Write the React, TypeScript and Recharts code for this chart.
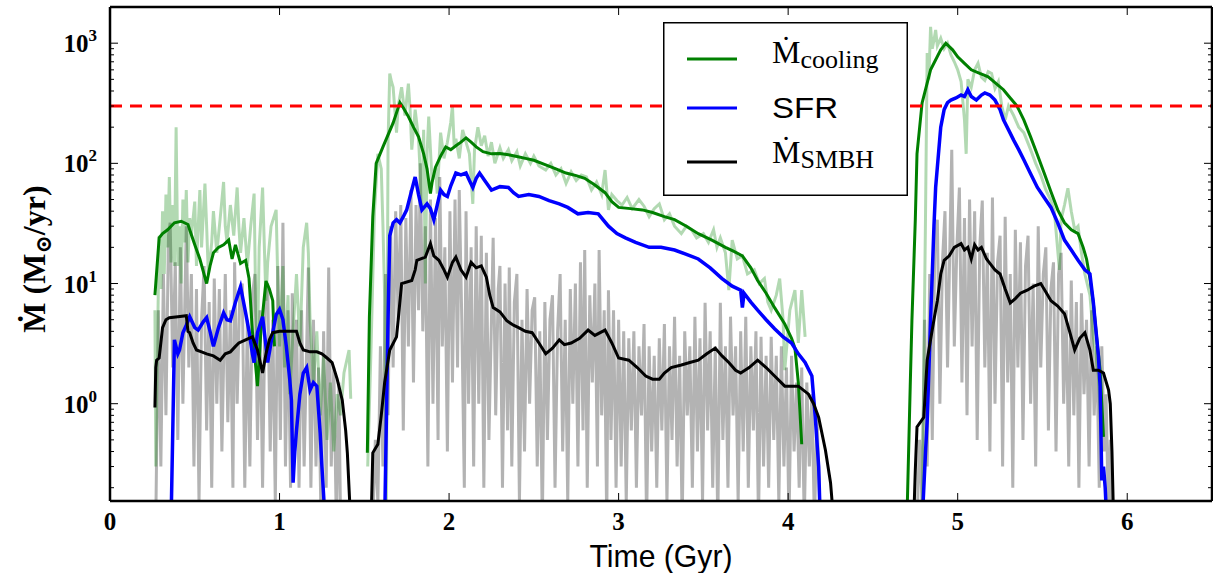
import React from 'react'
import { LineChart, Line, XAxis, YAxis, ReferenceLine, Legend } from 'recharts'

type Pt = [number, number | null]

// values below the axis floor (0.1) just mean "drops off the bottom"
const coolingRaw: Pt[] = [
  [0.265, 6], [0.27, 0.3], [0.28, 3], [0.29, 25], [0.3, 9], [0.31, 40], [0.32, 12], [0.33, 55], [0.34, 20], [0.35, 77],
  [0.36, 15], [0.37, 45], [0.38, 14], [0.39, 200], [0.4, 14], [0.41, 30], [0.42, 10], [0.43, 50], [0.44, 22], [0.45, 60],
  [0.46, 15], [0.47, 35], [0.48, 25], [0.5, 48], [0.51, 14], [0.53, 60], [0.54, 20], [0.56, 68], [0.57, 30], [0.58, 12],
  [0.6, 22], [0.61, 40], [0.63, 18], [0.65, 35], [0.67, 70], [0.68, 30], [0.69, 22], [0.71, 45], [0.73, 25], [0.75, 63],
  [0.76, 30], [0.77, 18], [0.79, 35], [0.81, 14], [0.83, 30], [0.85, 56], [0.86, 6], [0.87, 3], [0.88, 20], [0.9, 63],
  [0.92, 7.2], [0.93, 15], [0.95, 30], [0.98, 41], [0.99, 10], [1.0, 3], [1.02, 14], [1.03, 2], [1.05, 8], [1.06, 1.2],
  [1.08, 4], [1.1, 12], [1.12, 3], [1.14, 20], [1.16, 32], [1.17, 18], [1.18, 5], [1.2, 1.5], [1.22, 4], [1.24, 0.8],
  [1.26, 2.5], [1.28, 0.5], [1.3, 1.5], [1.32, 0.4], [1.34, 1.2], [1.36, 0.8], [1.38, 1.8], [1.41, 2.8], [1.42, 1.1],
  [1.47, null],
  [1.52, 0.3], [1.54, 3], [1.56, 40], [1.58, 120], [1.6, 90], [1.61, 30], [1.62, 7.7], [1.63, 0.1], [1.64, 150], [1.65, 560],
  [1.66, 480], [1.67, 430], [1.69, 180], [1.7, 300], [1.72, 430], [1.74, 250], [1.76, 460], [1.77, 280], [1.78, 130], [1.8, 280],
  [1.82, 160], [1.84, 41], [1.85, 190], [1.86, 10], [1.87, 120], [1.88, 245], [1.9, 70], [1.92, 93], [1.93, 56], [1.95, 180],
  [1.97, 110], [1.99, 150], [2.01, 220], [2.02, 300], [2.03, 140], [2.04, 160], [2.06, 110], [2.08, 190], [2.1, 150], [2.12, 120],
  [2.14, 46], [2.15, 130], [2.17, 200], [2.19, 140], [2.21, 170], [2.23, 115], [2.25, 150], [2.27, 100], [2.3, 135], [2.32, 110],
  [2.35, 130], [2.37, 105], [2.4, 125], [2.42, 95], [2.45, 120], [2.48, 100], [2.5, 115], [2.53, 95], [2.57, 88], [2.6, 100],
  [2.63, 80], [2.66, 90], [2.69, 68], [2.72, 85], [2.75, 72], [2.78, 80], [2.81, 77], [2.84, 60], [2.87, 70], [2.9, 55],
  [2.92, 88], [2.94, 41], [2.96, 55], [2.99, 49], [3.02, 45], [3.05, 52], [3.08, 42], [3.12, 50], [3.15, 44], [3.18, 36],
  [3.21, 42], [3.24, 46], [3.27, 34], [3.3, 38], [3.33, 30], [3.37, 26], [3.4, 30], [3.43, 28], [3.46, 24], [3.5, 26],
  [3.53, 22], [3.56, 28], [3.58, 20], [3.6, 24], [3.63, 18], [3.65, 8.8], [3.67, 23], [3.7, 16], [3.73, 17], [3.76, 12],
  [3.8, 13], [3.83, 10], [3.86, 11], [3.88, 7], [3.9, 6], [3.93, 8], [3.95, 11], [3.97, 5], [3.98, 1.9], [4.01, 6],
  [4.04, 8.8], [4.06, 3.2], [4.08, 8.8], [4.1, 3.6],
  [4.5, null],
  [4.79, 0.1], [4.8, 2], [4.81, 34], [4.82, 830], [4.83, 500], [4.84, 1370], [4.85, 900], [4.86, 1060], [4.87, 1290], [4.88, 950],
  [4.9, 1100], [4.92, 900], [4.94, 1000], [4.96, 800], [4.98, 700], [5.0, 600], [5.02, 480], [5.04, 230], [5.05, 120], [5.06, 500],
  [5.08, 430], [5.1, 600], [5.12, 680], [5.14, 520], [5.16, 490], [5.18, 580], [5.2, 560], [5.22, 420], [5.24, 480], [5.26, 300],
  [5.28, 230], [5.3, 300], [5.33, 250], [5.36, 200], [5.39, 180], [5.43, 130], [5.46, 100], [5.49, 80], [5.52, 60], [5.55, 49],
  [5.57, 40], [5.6, 13], [5.61, 34], [5.63, 45], [5.65, 62], [5.67, 40], [5.69, 28], [5.71, 30], [5.73, 18], [5.75, 12],
  [5.78, 8], [5.8, 3.6], [5.83, 1.7], [5.85, 0.4],
]

const smbhRaw: Pt[] = [
  [0.27, 0.1], [0.285, 6], [0.3, 0.3], [0.315, 12], [0.33, 0.8], [0.345, 25], [0.355, 32], [0.37, 2], [0.385, 15], [0.4, 0.5],
  [0.415, 20], [0.43, 1], [0.45, 30], [0.465, 2], [0.48, 12], [0.495, 0.3], [0.51, 9], [0.525, 0.15], [0.54, 5], [0.555, 14],
  [0.57, 0.6], [0.585, 7], [0.6, 0.2], [0.615, 11], [0.63, 1], [0.645, 9], [0.66, 0.4], [0.68, 12], [0.695, 0.7], [0.71, 6],
  [0.725, 0.2], [0.735, 15], [0.75, 1], [0.765, 8], [0.78, 10], [0.795, 0.2], [0.81, 5], [0.825, 0.3], [0.84, 8], [0.855, 12],
  [0.87, 0.5], [0.885, 6], [0.9, 0.2], [0.915, 7], [0.93, 10], [0.945, 0.4], [0.96, 5], [0.975, 0.15], [0.99, 14], [1.005, 0.5],
  [1.02, 32], [1.035, 0.3], [1.05, 6], [1.065, 0.2], [1.075, 8.3], [1.09, 0.5], [1.1, 5], [1.115, 0.2], [1.13, 6], [1.145, 0.3],
  [1.16, 3], [1.17, 13.6], [1.185, 0.2], [1.2, 5], [1.215, 0.3], [1.23, 2], [1.245, 0.1], [1.26, 4], [1.275, 0.2], [1.29, 13.6],
  [1.305, 0.3], [1.32, 2], [1.335, 0.1], [1.35, 1.5], [1.36, 0.1],
  [1.45, null],
  [1.55, 0.1], [1.565, 0.5], [1.58, 0.15], [1.595, 3], [1.61, 0.3], [1.625, 12], [1.64, 0.8], [1.655, 30], [1.67, 2], [1.685, 40],
  [1.7, 5], [1.715, 45], [1.73, 0.6], [1.745, 35], [1.76, 3], [1.775, 60], [1.79, 1.5], [1.805, 45], [1.82, 6], [1.83, 100],
  [1.845, 4], [1.86, 30], [1.875, 0.3], [1.89, 50], [1.905, 1], [1.92, 35], [1.935, 0.5], [1.945, 77], [1.96, 3], [1.975, 20],
  [1.99, 0.4], [2.005, 40], [2.02, 1.5], [2.035, 50], [2.05, 2], [2.06, 60], [2.075, 5], [2.09, 0.2], [2.1, 40], [2.115, 1],
  [2.13, 20], [2.145, 0.3], [2.16, 30], [2.175, 1], [2.19, 25], [2.205, 0.2], [2.22, 18], [2.235, 0.5], [2.26, 24], [2.275, 0.8],
  [2.29, 9], [2.3, 14], [2.315, 0.2], [2.33, 10], [2.345, 0.6], [2.355, 13.6], [2.37, 0.3], [2.385, 7], [2.4, 12], [2.415, 0.15],
  [2.43, 5], [2.445, 0.4], [2.46, 9], [2.475, 1], [2.49, 6], [2.505, 7.7], [2.52, 0.3], [2.535, 4], [2.55, 0.1], [2.565, 7],
  [2.58, 0.5], [2.595, 5], [2.61, 8], [2.625, 0.2], [2.64, 4], [2.655, 12], [2.67, 0.4], [2.685, 5], [2.7, 0.15], [2.715, 9],
  [2.73, 1], [2.745, 10], [2.76, 0.3], [2.775, 15], [2.79, 0.6], [2.8, 19], [2.815, 0.2], [2.83, 8], [2.845, 1.5], [2.86, 10],
  [2.875, 0.3], [2.885, 19], [2.9, 0.8], [2.915, 6], [2.93, 0.1], [2.94, 8.8], [2.955, 0.5], [2.97, 6], [2.985, 0.2], [3.0, 5],
  [3.015, 0.3], [3.03, 4], [3.045, 0.15], [3.06, 3.5], [3.075, 0.6], [3.09, 4], [3.105, 0.2], [3.12, 3], [3.135, 0.8], [3.15, 4.6],
  [3.165, 0.1], [3.18, 3], [3.195, 0.4], [3.21, 2.5], [3.225, 0.2], [3.24, 3.5], [3.255, 0.6], [3.27, 4.6], [3.285, 0.15], [3.3, 3],
  [3.315, 0.5], [3.33, 5.3], [3.345, 0.3], [3.36, 2.5], [3.375, 0.1], [3.39, 4], [3.405, 0.8], [3.42, 3], [3.435, 0.2], [3.45, 5.3],
  [3.465, 0.4], [3.48, 3.5], [3.495, 0.15], [3.51, 6.9], [3.525, 0.6], [3.54, 4], [3.555, 0.2], [3.57, 3], [3.585, 0.1], [3.6, 6.9],
  [3.615, 0.5], [3.63, 3], [3.645, 0.2], [3.66, 5.3], [3.675, 0.8], [3.69, 3], [3.705, 0.15], [3.72, 4], [3.735, 0.4], [3.75, 5.3],
  [3.765, 0.2], [3.78, 3], [3.795, 0.6], [3.81, 4], [3.825, 0.1], [3.84, 3.6], [3.855, 0.3], [3.87, 2.5], [3.885, 0.2], [3.9, 3.6],
  [3.915, 0.5], [3.93, 2.5], [3.945, 0.15], [3.96, 3], [3.975, 0.3], [3.99, 2], [4.005, 0.1], [4.02, 2.5], [4.035, 0.4], [4.05, 1.5],
  [4.065, 0.2], [4.08, 2], [4.095, 0.1], [4.11, 1.5], [4.125, 0.3], [4.14, 1.2], [4.155, 0.1], [4.17, 0.8], [4.19, 0.1],
  [4.5, null],
  [4.76, 0.1], [4.775, 0.5], [4.79, 0.15], [4.805, 5], [4.82, 0.3], [4.835, 12], [4.85, 0.5], [4.865, 20], [4.88, 34], [4.895, 1],
  [4.91, 15], [4.925, 40], [4.94, 2], [4.955, 25], [4.965, 130], [4.98, 3], [4.995, 20], [5.01, 63], [5.025, 1.5], [5.04, 35],
  [5.055, 0.8], [5.07, 50], [5.085, 3], [5.1, 40], [5.115, 0.5], [5.13, 20], [5.145, 49], [5.16, 2], [5.175, 18], [5.19, 0.4],
  [5.205, 52], [5.22, 1], [5.235, 15], [5.25, 25], [5.265, 0.3], [5.28, 36], [5.295, 1.5], [5.31, 12], [5.325, 0.2], [5.34, 28],
  [5.355, 2], [5.37, 22], [5.385, 0.5], [5.4, 14], [5.415, 25], [5.43, 1], [5.445, 10], [5.46, 0.3], [5.475, 30], [5.49, 2],
  [5.505, 12], [5.52, 20], [5.535, 0.6], [5.55, 9], [5.565, 15], [5.58, 0.4], [5.595, 12], [5.61, 18], [5.625, 1], [5.64, 6],
  [5.655, 0.3], [5.67, 10.6], [5.685, 0.8], [5.7, 7], [5.715, 0.2], [5.73, 8.3], [5.745, 1.2], [5.76, 5], [5.775, 0.3], [5.79, 6],
  [5.805, 0.8], [5.82, 3], [5.835, 0.2], [5.85, 3], [5.865, 0.4], [5.875, 1.2], [5.89, 0.1], [5.9, 0.5], [5.91, 0.1],
]

const cooling: Pt[] = [
  [0.265, 8], [0.27, 10], [0.29, 24], [0.31, 26], [0.34, 28], [0.38, 32], [0.42, 33], [0.46, 31], [0.47, 28], [0.5, 21],
  [0.53, 16], [0.57, 10], [0.59, 14], [0.61, 18], [0.64, 20], [0.67, 21], [0.7, 23], [0.72, 16], [0.74, 21], [0.77, 14.7],
  [0.8, 15.6], [0.82, 11], [0.84, 4], [0.86, 2.0], [0.87, 1.4], [0.89, 4], [0.92, 10.5], [0.94, 9], [0.96, 7.2], [0.97, 3],
  [1.3, null],
  [1.518, 0.39], [1.53, 5.3], [1.55, 36], [1.57, 100], [1.61, 137], [1.67, 217], [1.71, 320], [1.73, 290], [1.76, 245], [1.79, 200],
  [1.82, 166], [1.85, 120], [1.87, 90], [1.89, 56], [1.9, 70], [1.92, 93], [1.95, 115], [1.98, 137], [2.01, 130], [2.04, 140],
  [2.07, 150], [2.1, 163], [2.13, 150], [2.16, 137], [2.2, 125], [2.25, 120], [2.3, 121], [2.35, 118], [2.4, 114], [2.45, 110],
  [2.5, 106], [2.57, 97], [2.63, 90], [2.69, 83], [2.75, 79], [2.8, 75], [2.86, 66], [2.92, 57], [2.96, 48], [3.0, 43],
  [3.07, 42], [3.14, 41], [3.2, 39], [3.27, 36], [3.33, 34], [3.4, 30], [3.47, 26], [3.55, 23], [3.63, 20], [3.68, 18.5],
  [3.73, 17], [3.78, 13.5], [3.82, 10.6], [3.87, 8.3], [3.92, 6.3], [3.98, 4.6], [4.02, 3.5], [4.04, 2.9], [4.06, 1.5], [4.08, 0.46],
  [4.4, null],
  [4.7, 0.1], [4.72, 1.4], [4.73, 4.9], [4.75, 34], [4.76, 120], [4.79, 318], [4.84, 600], [4.9, 880], [4.93, 1000], [4.97, 880],
  [5.0, 770], [5.04, 680], [5.08, 600], [5.13, 560], [5.18, 525], [5.22, 470], [5.27, 410], [5.31, 350], [5.35, 300], [5.39, 230],
  [5.43, 166], [5.47, 118], [5.51, 83], [5.55, 58], [5.59, 41], [5.63, 32], [5.67, 28], [5.71, 26], [5.74, 20], [5.76, 16],
  [5.78, 11], [5.8, 6.9], [5.82, 3.5], [5.84, 1.9], [5.86, 0.53],
]

const sfr: Pt[] = [
  [0.36, 0.1], [0.37, 0.57], [0.38, 3.4], [0.4, 2.6], [0.41, 2.8], [0.43, 3.9], [0.45, 4.5], [0.47, 5.3], [0.5, 4.3], [0.52, 4.1],
  [0.55, 4.8], [0.57, 5.2], [0.59, 4.0], [0.61, 3.0], [0.64, 4.3], [0.67, 5.7], [0.69, 5.0], [0.71, 4.9], [0.74, 7.0], [0.77, 9.4],
  [0.8, 5.7], [0.82, 4.0], [0.84, 2.6], [0.85, 2.2], [0.87, 3.9], [0.9, 5.3], [0.92, 3.0], [0.93, 2.2], [0.96, 3.9], [0.98, 5.5],
  [1.0, 6.1], [1.02, 5.0], [1.04, 3.0], [1.06, 1.6], [1.07, 1.07], [1.08, 0.22], [1.09, 0.4], [1.1, 0.6], [1.12, 1.2], [1.14, 1.8],
  [1.16, 2.0], [1.18, 1.3], [1.2, 1.5], [1.22, 1.4], [1.24, 0.56], [1.25, 0.3], [1.27, 0.1],
  [1.45, null],
  [1.62, 0.1], [1.64, 5], [1.65, 25], [1.67, 32], [1.69, 34], [1.71, 32], [1.73, 36], [1.75, 41], [1.78, 60], [1.8, 77],
  [1.82, 55], [1.84, 41], [1.87, 46], [1.89, 42], [1.91, 34], [1.93, 45], [1.95, 60], [1.97, 55], [1.99, 53], [2.01, 65],
  [2.04, 83], [2.07, 80], [2.1, 83], [2.12, 72], [2.14, 63], [2.16, 75], [2.18, 83], [2.21, 72], [2.25, 60], [2.3, 64],
  [2.35, 63], [2.38, 57], [2.41, 53], [2.47, 55], [2.53, 53], [2.59, 49], [2.65, 46], [2.7, 43], [2.76, 38], [2.82, 39],
  [2.88, 38], [2.94, 30], [2.99, 26], [3.04, 24], [3.1, 22], [3.18, 20], [3.25, 20], [3.33, 19], [3.4, 17.5], [3.47, 16],
  [3.54, 13.5], [3.61, 11], [3.67, 9.5], [3.72, 8.8], [3.73, 6.3], [3.74, 8.3], [3.78, 7], [3.82, 6], [3.87, 5], [3.92, 4.2],
  [3.97, 3.6], [4.02, 3.2], [4.06, 2.6], [4.1, 2.2], [4.14, 1.7], [4.16, 0.77], [4.18, 0.3], [4.19, 0.1],
  [4.5, null],
  [4.79, 0.1], [4.81, 0.39], [4.82, 0.72], [4.84, 4.9], [4.86, 30], [4.87, 63], [4.9, 200], [4.92, 280], [4.94, 320], [4.96, 336],
  [4.99, 350], [5.02, 370], [5.04, 360], [5.06, 410], [5.08, 360], [5.11, 336], [5.14, 370], [5.16, 385], [5.19, 370], [5.22, 336],
  [5.25, 280], [5.27, 230], [5.3, 190], [5.33, 156], [5.36, 130], [5.39, 107], [5.43, 82], [5.47, 63], [5.51, 52], [5.55, 43],
  [5.59, 32], [5.63, 23], [5.67, 19], [5.71, 15.6], [5.75, 13], [5.78, 12], [5.8, 7], [5.81, 4.9], [5.83, 2.5], [5.84, 1.4],
  [5.85, 0.23], [5.86, 0.3], [5.87, 0.2], [5.88, 0.1],
]

const smbh: Pt[] = [
  [0.265, 0.93], [0.27, 2.0], [0.275, 2.3], [0.29, 2.4], [0.31, 4.3], [0.33, 5.0], [0.35, 5.2], [0.4, 5.3], [0.45, 5.4], [0.46, 4.0],
  [0.47, 3.9], [0.49, 3.2], [0.51, 2.8], [0.54, 2.7], [0.57, 2.6], [0.61, 2.5], [0.65, 2.3], [0.68, 2.6], [0.71, 2.7], [0.74, 3.0],
  [0.76, 3.2], [0.8, 3.4], [0.84, 3.6], [0.87, 2.8], [0.9, 1.8], [0.92, 2.6], [0.94, 3.4], [0.96, 3.9], [1.0, 4.0], [1.05, 4.0],
  [1.1, 4.0], [1.12, 3.2], [1.14, 2.8], [1.18, 2.7], [1.22, 2.7], [1.25, 2.6], [1.28, 2.4], [1.31, 2.2], [1.34, 1.6], [1.37, 1.07],
  [1.39, 0.6], [1.4, 0.39], [1.42, 0.1],
  [1.48, null],
  [1.54, 0.1], [1.55, 0.39], [1.58, 0.46], [1.6, 0.8], [1.62, 1.5], [1.65, 2.8], [1.69, 3.6], [1.7, 5], [1.72, 10], [1.78, 10.6],
  [1.8, 13], [1.81, 15.6], [1.86, 16.6], [1.89, 21.5], [1.91, 17], [1.94, 15.6], [1.97, 13], [1.99, 11.3], [2.02, 15], [2.04, 16.6],
  [2.07, 13], [2.1, 11.3], [2.13, 15], [2.16, 13.5], [2.19, 14], [2.22, 11.3], [2.24, 8], [2.26, 6.3], [2.3, 5.8], [2.34, 4.9],
  [2.38, 4.5], [2.41, 4.3], [2.45, 4.0], [2.49, 3.9], [2.53, 3.2], [2.57, 2.6], [2.61, 2.9], [2.65, 3.4], [2.68, 3.1], [2.72, 3.2],
  [2.77, 3.5], [2.82, 4.1], [2.86, 3.7], [2.92, 4.1], [2.96, 3.2], [3.0, 2.4], [3.06, 2.3], [3.11, 2.0], [3.16, 1.7], [3.2, 1.6],
  [3.24, 1.6], [3.27, 1.8], [3.31, 2.0], [3.37, 2.1], [3.42, 2.2], [3.47, 2.3], [3.52, 2.6], [3.57, 2.9], [3.61, 2.5], [3.65, 2.2],
  [3.69, 1.9], [3.72, 1.8], [3.77, 2.0], [3.82, 2.3], [3.87, 2.0], [3.92, 1.7], [3.98, 1.4], [4.06, 1.4], [4.12, 1.2], [4.15, 1.0],
  [4.18, 0.77], [4.22, 0.41], [4.25, 0.22], [4.27, 0.1],
  [4.5, null],
  [4.74, 0.1], [4.75, 0.28], [4.76, 0.64], [4.8, 0.77], [4.82, 2.3], [4.84, 3.4], [4.86, 5], [4.88, 7.2], [4.9, 12], [4.92, 15.6],
  [4.95, 17], [4.98, 20], [5.02, 21.5], [5.04, 19], [5.06, 20], [5.08, 16], [5.1, 21], [5.12, 19], [5.14, 20], [5.17, 16],
  [5.19, 14.7], [5.22, 13], [5.25, 12], [5.28, 9], [5.31, 6.9], [5.34, 7.5], [5.37, 8.3], [5.41, 8.8], [5.45, 9.5], [5.49, 10],
  [5.52, 8.5], [5.55, 7.2], [5.59, 6.5], [5.63, 5.6], [5.66, 4], [5.69, 2.8], [5.72, 3.5], [5.75, 3.9], [5.78, 2.8], [5.8, 1.9],
  [5.83, 1.9], [5.86, 1.8], [5.89, 1.3], [5.9, 1.0], [5.91, 0.4], [5.92, 0.1],
]

const eddington = 300

const xTicks = [0, 1, 2, 3, 4, 5, 6]
const yTicks = [
  0.2, 0.3, 0.4, 0.5, 0.6, 0.7, 0.8, 0.9,
  1, 2, 3, 4, 5, 6, 7, 8, 9,
  10, 20, 30, 40, 50, 60, 70, 80, 90,
  100, 200, 300, 400, 500, 600, 700, 800, 900,
  1000,
]
const yMajor: Record<number, string> = { 1: '0', 10: '1', 100: '2', 1000: '3' }
const legendOrder = ['cooling', 'SFR', 'SMBH']

const SERIF = '"Liberation Serif", "DejaVu Serif", serif'
const SANS = '"Liberation Sans", Arial, sans-serif'

const rows = (pts: Pt[]) => pts.map(([t, v]) => ({ t, v }))

const LeftTick = ({ x, y, payload }: any) => {
  const lbl = yMajor[payload.value]
  return (
    <g>
      <line x1={x} x2={x + (lbl ? 8 : 4)} y1={y} y2={y} stroke="#000" strokeWidth={1} />
      {lbl && (
        <text x={x - 13} y={y + 9} textAnchor="end" fontFamily={SERIF} fontWeight="bold" fontSize={25} fill="#000">
          10<tspan dy={-11} fontSize={17}>{lbl}</tspan>
        </text>
      )}
    </g>
  )
}

const RightTick = ({ x, y, payload }: any) => {
  const major = yMajor[payload.value] !== undefined
  return <line x1={x} x2={x - (major ? 8 : 4)} y1={y} y2={y} stroke="#000" strokeWidth={1} />
}

const BottomTick = ({ x, y, payload }: any) => (
  <g>
    <line x1={x} x2={x} y1={y} y2={y - 8} stroke="#000" strokeWidth={1} />
    <text x={x} y={y + 29} textAnchor="middle" fontFamily={SERIF} fontWeight="bold" fontSize={25} fill="#000">
      {payload.value}
    </text>
  </g>
)

const TopTick = ({ x, y }: any) => <line x1={x} x2={x} y1={y} y2={y + 8} stroke="#000" strokeWidth={1} />

const XLabel = ({ viewBox }: any) => (
  <text
    x={viewBox.x + viewBox.width / 2}
    y={viewBox.y + 66}
    textAnchor="middle"
    fontFamily={SANS}
    fontSize={32}
    textLength={143}
    lengthAdjust="spacingAndGlyphs"
    fill="#000"
  >
    Time (Gyr)
  </text>
)

const YLabel = ({ viewBox }: any) => {
  const cx = viewBox.x + 45
  const cy = viewBox.y + viewBox.height / 2 + 5
  return (
    <text
      x={cx}
      y={cy}
      transform={`rotate(-90 ${cx} ${cy})`}
      textAnchor="middle"
      fontFamily={SERIF}
      fontWeight="bold"
      fontSize={32}
      fill="#000"
    >
      Ṁ (M<tspan fontSize={22} dy={6}>⊙</tspan>
      <tspan dy={-6}>/yr)</tspan>
    </text>
  )
}

const legendText = (name: string) => {
  if (name === 'SFR') {
    return (
      <text x={109} y={96} fontFamily={SANS} fontSize={29} textLength={66} lengthAdjust="spacingAndGlyphs">
        SFR
      </text>
    )
  }
  const base = name === 'cooling' ? 41 : 141
  return (
    <text x={109} y={base} fontFamily={SERIF} fontSize={32}>
      Ṁ<tspan fontSize={26} dy={5}>{name}</tspan>
    </text>
  )
}

const LegendBox = ({ payload }: any) => {
  const items = (payload || []).filter((p: any) => p.type !== 'none')
  const lineY = [37, 86, 140]
  return (
    <svg width={245} height={174} style={{ display: 'block' }}>
      <rect x={0.75} y={0.75} width={243.5} height={172.5} fill="#fff" stroke="#000" strokeWidth={1.5} />
      {items.map((p: any) => {
        const row = legendOrder.indexOf(p.value)
        return (
          <g key={p.value}>
            <line x1={24} x2={74} y1={lineY[row]} y2={lineY[row]} stroke={p.color} strokeWidth={3} />
            {legendText(p.value)}
          </g>
        )
      })}
    </svg>
  )
}

export default function App() {
  return (
    <div style={{ position: 'absolute', left: 0, top: 0, background: '#fff' }}>
      <LineChart width={1213} height={573} margin={{ top: 0, right: 0, bottom: 0, left: 0 }}>
        <XAxis
          xAxisId="bottom"
          dataKey="t"
          type="number"
          domain={[0, 6.5]}
          ticks={xTicks}
          interval={0}
          height={72}
          tickSize={0}
          tickMargin={0}
          tickLine={false}
          axisLine={{ stroke: '#000', strokeWidth: 2.5 }}
          tick={(p: any) => <BottomTick {...p} />}
          label={(p: any) => <XLabel {...p} />}
          allowDataOverflow
        />
        <XAxis
          xAxisId="top"
          orientation="top"
          dataKey="t"
          type="number"
          domain={[0, 6.5]}
          ticks={xTicks}
          interval={0}
          height={7}
          tickSize={0}
          tickMargin={0}
          tickLine={false}
          axisLine={{ stroke: '#000', strokeWidth: 2.5 }}
          tick={(p: any) => <TopTick {...p} />}
          allowDataOverflow
        />
        <YAxis
          yAxisId="left"
          scale="log"
          type="number"
          domain={[0.155, 2000]}
          ticks={yTicks}
          interval={0}
          width={110}
          tickSize={0}
          tickMargin={0}
          tickLine={false}
          axisLine={{ stroke: '#000', strokeWidth: 2.5 }}
          tick={(p: any) => <LeftTick {...p} />}
          label={(p: any) => <YLabel {...p} />}
          allowDataOverflow
        />
        <YAxis
          yAxisId="right"
          orientation="right"
          scale="log"
          type="number"
          domain={[0.155, 2000]}
          ticks={yTicks}
          interval={0}
          width={1}
          tickSize={0}
          tickMargin={0}
          tickLine={false}
          axisLine={{ stroke: '#000', strokeWidth: 2.5 }}
          tick={(p: any) => <RightTick {...p} />}
          allowDataOverflow
        />
        <Line
          xAxisId="bottom"
          yAxisId="left"
          data={rows(smbhRaw)}
          dataKey="v"
          stroke="#b3b3b3"
          strokeWidth={3}
          dot={false}
          legendType="none"
          isAnimationActive={false}
        />
        <Line
          xAxisId="bottom"
          yAxisId="left"
          data={rows(coolingRaw)}
          dataKey="v"
          stroke="#008000"
          strokeOpacity={0.3}
          strokeWidth={3}
          dot={false}
          legendType="none"
          isAnimationActive={false}
        />
        <Line
          xAxisId="bottom"
          yAxisId="left"
          data={rows(cooling)}
          dataKey="v"
          name="cooling"
          stroke="#008000"
          strokeWidth={3}
          dot={false}
          isAnimationActive={false}
        />
        <Line
          xAxisId="bottom"
          yAxisId="left"
          data={rows(sfr)}
          dataKey="v"
          name="SFR"
          stroke="#0000ff"
          strokeWidth={3.5}
          dot={false}
          isAnimationActive={false}
        />
        <Line
          xAxisId="bottom"
          yAxisId="left"
          data={rows(smbh)}
          dataKey="v"
          name="SMBH"
          stroke="#000000"
          strokeWidth={3}
          dot={false}
          isAnimationActive={false}
        />
        <ReferenceLine
          xAxisId="bottom"
          yAxisId="left"
          y={eddington}
          stroke="#ff0000"
          strokeWidth={3}
          strokeDasharray="12 8"
        />
        <Legend
          layout="vertical"
          align="center"
          verticalAlign="middle"
          content={(p: any) => <LegendBox {...p} />}
          wrapperStyle={{ left: 663, top: 22, width: 245, height: 174 }}
        />
      </LineChart>
    </div>
  )
}
